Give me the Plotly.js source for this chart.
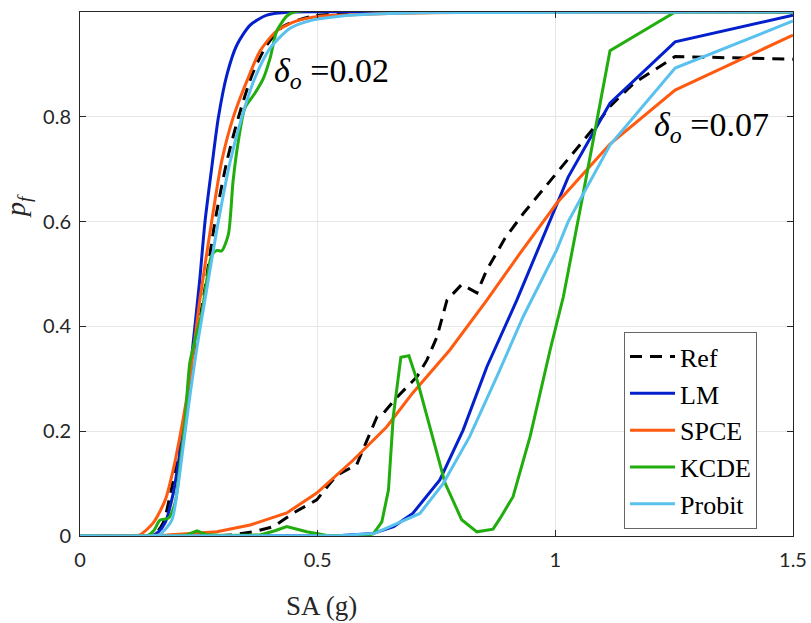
<!DOCTYPE html>
<html>
<head>
<meta charset="utf-8">
<script src="https://cdn.plot.ly/plotly-3.0.1.min.js"></script>
<style>
  html, body { margin: 0; padding: 0; background: #fff; }
  #pf-plot { width: 811px; height: 623px; }
</style>
</head>
<body>
<div id="pf-plot"></div>
<script>
// ---- delta_o = 0.02 (steep group) ----
var ref02_x  = [0, 0.14, 0.16, 0.175, 0.189, 0.205, 0.22, 0.233, 0.248, 0.263, 0.284, 0.309, 0.333, 0.362, 0.393, 0.428, 0.49, 0.56, 0.7, 1.5];
var ref02_y  = [0, 0, 0.006, 0.025, 0.075, 0.15, 0.232, 0.3, 0.39, 0.473, 0.6, 0.715, 0.798, 0.88, 0.937, 0.973, 0.992, 0.997, 0.999, 1.0];

var lm02_x   = [0, 0.15, 0.165, 0.179, 0.196, 0.21, 0.225, 0.238, 0.252, 0.263, 0.277, 0.291, 0.309, 0.33, 0.358, 0.393, 0.442, 0.6, 1.5];
var lm02_y   = [0, 0, 0.008, 0.025, 0.081, 0.158, 0.253, 0.368, 0.49, 0.6, 0.702, 0.798, 0.88, 0.937, 0.975, 0.994, 1.0, 1.0, 1.0];

var spce02_x = [0, 0.11, 0.126, 0.154, 0.179, 0.196, 0.21, 0.225, 0.238, 0.252, 0.277, 0.298, 0.322, 0.351, 0.379, 0.414, 0.456, 0.505, 0.547, 0.65, 0.8, 1.5];
var spce02_y = [0, 0, 0.002, 0.025, 0.068, 0.126, 0.189, 0.266, 0.348, 0.45, 0.6, 0.715, 0.798, 0.868, 0.926, 0.964, 0.983, 0.992, 0.994, 0.997, 0.999, 1.0];

var kcde02_x = [0, 0.14, 0.155, 0.168, 0.186, 0.2, 0.21, 0.221, 0.231, 0.242, 0.256, 0.267, 0.277, 0.288, 0.298, 0.312, 0.322, 0.333, 0.347, 0.368, 0.386, 0.40, 0.414, 0.435, 0.45, 1.5];
var kcde02_y = [0, 0, 0.01, 0.03, 0.034, 0.063, 0.132, 0.221, 0.33, 0.374, 0.425, 0.49, 0.536, 0.545, 0.544, 0.575, 0.677, 0.753, 0.817, 0.845, 0.874, 0.912, 0.964, 0.992, 1.0, 1.0];

var prob02_x = [0, 0.15, 0.168, 0.193, 0.206, 0.217, 0.231, 0.246, 0.267, 0.291, 0.316, 0.34, 0.368, 0.40, 0.442, 0.491, 0.547, 0.62, 0.75, 1.5];
var prob02_y = [0, 0, 0.003, 0.03, 0.094, 0.17, 0.266, 0.36, 0.473, 0.6, 0.715, 0.798, 0.874, 0.931, 0.969, 0.985, 0.992, 0.996, 0.999, 1.0];

// ---- delta_o = 0.07 (shallow group) ----
var ref07_x  = [0, 0.28, 0.32, 0.365, 0.407, 0.449, 0.498, 0.54, 0.582, 0.604, 0.625, 0.638, 0.667, 0.709, 0.73, 0.751, 0.772, 0.803, 0.835, 0.856, 0.894, 0.933, 1.003, 1.083, 1.115, 1.165, 1.252, 1.5];
var ref07_y  = [0, 0, 0.002, 0.008, 0.018, 0.044, 0.069, 0.116, 0.136, 0.183, 0.228, 0.234, 0.265, 0.304, 0.336, 0.38, 0.45, 0.48, 0.464, 0.508, 0.568, 0.616, 0.692, 0.781, 0.82, 0.864, 0.915, 0.91];

var lm07_x   = [0, 0.5, 0.55, 0.617, 0.66, 0.70, 0.757, 0.806, 0.856, 0.919, 0.963, 1.003, 1.027, 1.115, 1.252, 1.5];
var lm07_y   = [0, 0, 0.001, 0.005, 0.018, 0.043, 0.107, 0.202, 0.323, 0.45, 0.546, 0.635, 0.685, 0.826, 0.943, 0.994];

var spce07_x = [0, 0.1, 0.183, 0.288, 0.358, 0.435, 0.498, 0.575, 0.645, 0.70, 0.778, 0.856, 0.926, 1.003, 1.115, 1.252, 1.5];
var spce07_y = [0, 0, 0.002, 0.008, 0.021, 0.044, 0.082, 0.145, 0.208, 0.273, 0.355, 0.45, 0.54, 0.635, 0.748, 0.851, 0.956];

var kcde07_x = [0, 0.2, 0.225, 0.246, 0.265, 0.3, 0.379, 0.41, 0.435, 0.477, 0.52, 0.6, 0.617, 0.635, 0.649, 0.659, 0.675, 0.692, 0.711, 0.736, 0.768, 0.803, 0.835, 0.869, 0.884, 0.911, 0.947, 0.989, 1.017, 1.056, 1.087, 1.115, 1.252, 1.5];
var kcde07_y = [0, 0, 0.002, 0.01, 0.003, 0.001, 0.002, 0.01, 0.018, 0.008, 0.001, 0.001, 0.004, 0.027, 0.088, 0.228, 0.341, 0.344, 0.292, 0.209, 0.101, 0.031, 0.008, 0.013, 0.034, 0.075, 0.19, 0.355, 0.457, 0.641, 0.794, 0.926, 1.0, 1.0];

var prob07_x = [0, 0.5, 0.55, 0.62, 0.715, 0.764, 0.82, 0.877, 0.932, 1.003, 1.027, 1.115, 1.252, 1.5];
var prob07_y = [0, 0, 0.001, 0.005, 0.043, 0.10, 0.19, 0.304, 0.418, 0.546, 0.6, 0.746, 0.893, 0.983];

var xticks = [0, 0.5, 1, 1.5];
var xticklabels = ['0', '0.5', '1', '1.5'];
var yticks = [0, 0.2, 0.4, 0.6, 0.8, 1];
var yticklabels = ['0', '0.2', '0.4', '0.6', '0.8', '1'];

// smooth: the 0.02 curves are finely sampled in the original, so draw them as splines
function make_line(x, y, name, color, dash, show, smooth){
    var ln = { color: color, width: 3, dash: dash };
    if(smooth)
    {
        ln.shape = 'spline';
        ln.smoothing = 0.7;
    }
    return {
        x: x,
        y: y,
        type: 'scatter',
        mode: 'lines',
        name: name,
        legendgroup: name,
        showlegend: show,
        line: ln
    };
}

var c_ref  = '#000000';
var c_lm   = '#0420CC';
var c_spce = '#FF5A0F';
var c_kcde = '#22AD0E';
var c_prob = '#59C1EE';

var data = [
    make_line(ref07_x,  ref07_y,  'Ref',    c_ref,  '12px,8px', true,  false),
    make_line(ref02_x,  ref02_y,  'Ref',    c_ref,  '12px,8px', false, true),
    make_line(lm07_x,   lm07_y,   'LM',     c_lm,   'solid',    true,  false),
    make_line(lm02_x,   lm02_y,   'LM',     c_lm,   'solid',    false, true),
    make_line(spce07_x, spce07_y, 'SPCE',   c_spce, 'solid',    true,  false),
    make_line(spce02_x, spce02_y, 'SPCE',   c_spce, 'solid',    false, true),
    make_line(kcde07_x, kcde07_y, 'KCDE',   c_kcde, 'solid',    true,  false),
    make_line(kcde02_x, kcde02_y, 'KCDE',   c_kcde, 'solid',    false, true),
    make_line(prob07_x, prob07_y, 'Probit', c_prob, 'solid',    true,  false),
    make_line(prob02_x, prob02_y, 'Probit', c_prob, 'solid',    false, true)
];

var serif = 'Liberation Serif, Times New Roman, serif';
var tickfont = { family: 'Lato', size: 20, color: '#262626' };

var layout = {
    width: 811,
    height: 623,
    margin: { l: 80, r: 18, t: 12, b: 87 },
    paper_bgcolor: '#ffffff',
    plot_bgcolor: '#ffffff',
    showlegend: true,
    legend: {
        x: 0.763, y: 0.389,
        xanchor: 'left', yanchor: 'top',
        bgcolor: '#ffffff',
        bordercolor: '#666666',
        borderwidth: 1,
        itemwidth: 45,
        font: { family: serif, size: 26, color: '#000000' },
        tracegroupgap: 0
    },
    xaxis: {
        range: [0, 1.5],
        tickvals: xticks,
        ticktext: xticklabels,
        ticks: 'inside',
        ticklen: 6,
        tickcolor: '#262626',
        tickfont: tickfont,
        ticklabelstandoff: 6,
        showline: true,
        linecolor: '#262626',
        linewidth: 1,
        mirror: 'ticks',
        showgrid: true,
        gridcolor: '#e6e6e6',
        zeroline: false
    },
    yaxis: {
        range: [0, 1],
        tickvals: yticks,
        ticktext: yticklabels,
        ticks: 'inside',
        ticklen: 6,
        tickcolor: '#262626',
        tickfont: tickfont,
        ticklabelstandoff: 4,
        showline: true,
        linecolor: '#262626',
        linewidth: 1,
        mirror: 'ticks',
        showgrid: true,
        gridcolor: '#e6e6e6',
        zeroline: false
    },
    annotations: [
        {   // delta_o = 0.02 label
            x: 0.404, y: 0.884, xref: 'x', yref: 'y',
            xanchor: 'left', yanchor: 'middle', showarrow: false,
            text: '<i>δ</i><sub><i>o</i></sub> =0.02',
            font: { family: serif, size: 34, color: '#000000' }
        },
        {   // delta_o = 0.07 label
            x: 1.203, y: 0.78, xref: 'x', yref: 'y',
            xanchor: 'left', yanchor: 'middle', showarrow: false,
            text: '<i>δ</i><sub><i>o</i></sub> =0.07',
            font: { family: serif, size: 34, color: '#000000' }
        },
        {   // x axis label
            x: (321 - 80) / 713, y: (536 - 606) / 524, xref: 'paper', yref: 'paper',
            xanchor: 'center', yanchor: 'middle',
            text: 'SA (g)', showarrow: false,
            font: { family: serif, size: 27, color: '#262626' }
        },
        {   // y axis label
            x: 0, y: 0.63, xref: 'paper', yref: 'paper',
            xanchor: 'center', yanchor: 'middle',
            xshift: -62,
            text: '<i>p</i><sub><i>f</i></sub>', showarrow: false, textangle: -90,
            font: { family: serif, size: 28, color: '#262626' }
        }
    ]
};

var additional_param = {
    displayModeBar: false,
    responsive: false
};

Plotly.newPlot('pf-plot', data, layout, additional_param);
</script>
</body>
</html>
